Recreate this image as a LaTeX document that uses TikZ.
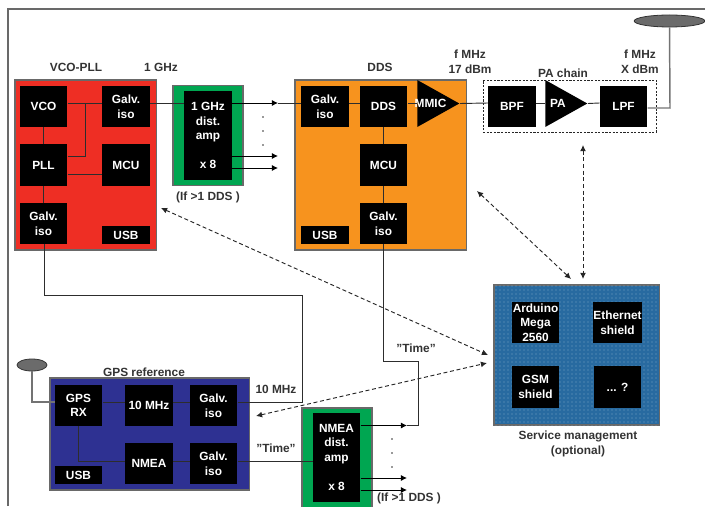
\documentclass[tikz,border=0pt]{standalone}
\usepackage{fontspec}
\setmainfont{Liberation Sans}
\usetikzlibrary{arrows.meta,positioning,shapes.geometric,patterns}
\definecolor{vcored}{RGB}{238,46,36}
\definecolor{ddsorange}{RGB}{247,147,30}
\definecolor{ampgreen}{RGB}{0,166,81}
\definecolor{gpsblue}{RGB}{46,49,146}
\definecolor{svcblue}{RGB}{40,106,160}
\definecolor{edgegrey}{RGB}{105,105,105}
\definecolor{wiregrey}{RGB}{45,45,45}
\tikzset{
  txt/.style={font=\fontsize{8.9}{10.9}\selectfont\bfseries,text=black!80,align=center,inner sep=0pt},
  panel/.style={draw=edgegrey,line width=0.8pt,minimum width=#1,inner sep=0pt},
  blockbox/.style={fill=black,text=white,font=\fontsize{8.9}{10.9}\selectfont\bfseries,align=center,inner sep=0pt,minimum width=35.6pt,minimum height=30.8pt},
  usbbox/.style={blockbox,minimum height=13.5pt},
  ampbox/.style={blockbox,minimum height=66.8pt},
  gainshape/.style={fill=black,isosceles triangle,isosceles triangle stretches,shape border rotate=0,minimum width=35.2pt,minimum height=31.5pt,inner sep=0pt,anchor=apex},
  wire/.style={wiregrey,line width=0.7pt},
  feed/.style={black!55,line width=1.1pt},
  sig/.style={black,line width=0.7pt,-{Latex[length=4.6pt,width=4.6pt]}},
  mgmt/.style={black!85,line width=0.7pt,densely dashed,{Latex[length=4.6pt,width=4.4pt]}-{Latex[length=4.6pt,width=4.4pt]}},
  spot/.style={circle,fill=black!80,inner sep=0.45pt},
  antenna/.style={ellipse,draw=black!80,fill=black!58,line width=0.6pt,inner sep=0pt}
}
\begin{document}
\begin{tikzpicture}[x=0.75pt,y=-0.75pt]
  \useasboundingbox (0,0) rectangle (705,506);
  \clip (0,0) rectangle (705,506);
  % Frame
  \draw[edgegrey,line width=0.9pt] (8,506) -- (8,9) -- (705,9);
  % Panels
  \node[panel=105.8pt,fill=vcored,minimum height=127.5pt] (vcopanel) at (85.5,165) {};
  \node[panel=128.3pt,fill=ddsorange,minimum height=127.5pt] (ddspanel) at (380.5,165) {};
  \node[panel=52.5pt,fill=ampgreen,minimum height=74.3pt] (rfamppanel) at (208,135.5) {};
  \node[panel=149.3pt,fill=gpsblue,minimum height=84pt] (gpspanel) at (149.5,434) {};
  \node[panel=52.5pt,fill=ampgreen,minimum height=74.3pt] (nmeapanel) at (337,457.5) {};
  \node[panel=123.8pt,minimum height=105pt,fill=svcblue,pattern color=white!38!svcblue,postaction={pattern=dots}] (svcpanel) at (576.5,355) {};
  % VCO-PLL
  \node[txt] (vcotitle) at (76,67) {VCO-PLL};
  \node[txt] (ghzlabel) at (161,67) {1 GHz};
  \node[blockbox] (vco) at (43.5,106.5) {VCO};
  \node[blockbox] (galvA) at (126,106.5) {Galv.\\iso};
  \node[blockbox] (pll) at (43.5,165) {PLL};
  \node[blockbox] (mcuA) at (126,165) {MCU};
  \node[blockbox] (galvB) at (43.5,223.5) {Galv.\\iso};
  \node[usbbox] (usbA) at (126,235) {USB};
  % Distribution amp
  \node[ampbox] (rfamp) at (208,135.5) {1 GHz\\dist.\\amp\\[10.9pt]x 8};
  \node[txt] (rfampnote) at (208,197) {(If >1 DDS )};
  \foreach \i/\y in {1/117,2/131,3/145}
    \node[spot] (rfdot\i) at (263,\y) {};
  % DDS
  \node[txt] (ddstitle) at (380,67) {DDS};
  \node[txt] (mmiclabel) at (470,62) {f MHz\\17 dBm};
  \node[blockbox] (galvC) at (325,106.5) {Galv.\\iso};
  \node[blockbox] (dds) at (383.5,106.5) {DDS};
  \node[gainshape] (mmic) at (460,103.5) {};
  \node[text=white,font=\fontsize{8.9}{10.9}\selectfont\bfseries,inner sep=0pt] (mmictext) at (430.5,103.5) {MMIC};
  \node[blockbox] (mcuB) at (383.5,165) {MCU};
  \node[blockbox] (galvD) at (383.5,223.5) {Galv.\\iso};
  \node[usbbox] (usbB) at (325,235) {USB};
  % PA chain
  \node[txt] (patitle) at (563,73) {PA chain};
  \node[txt] (palabel) at (640,62) {f MHz\\X dBm};
  \node[draw=black!85,line width=0.6pt,dash pattern=on 1.6pt off 1.1pt,minimum width=129.8pt,minimum height=39pt,inner sep=0pt] (pabox) at (569.5,106) {};
  \node[blockbox] (bpf) at (512,106.5) {BPF};
  \node[gainshape] (pa) at (588,103.5) {};
  \node[text=white,font=\fontsize{8.9}{10.9}\selectfont\bfseries,inner sep=0pt] (patext) at (558,103.5) {PA};
  \node[blockbox] (lpf) at (623.5,106.5) {LPF};
  \node[antenna,minimum width=53pt,minimum height=9pt] (dishA) at (669.5,21) {};
  % GPS reference
  \node[txt] (gpstitle) at (144,372) {GPS reference};
  \node[antenna,minimum width=22.5pt,minimum height=9pt] (dishB) at (32,365) {};
  \node[blockbox] (gpsrx) at (78.5,405.5) {GPS\\RX};
  \node[blockbox] (tenmhz) at (149,405.5) {10 MHz};
  \node[blockbox] (galvE) at (213.5,405.5) {Galv.\\iso};
  \node[blockbox] (nmea) at (149,463.5) {NMEA};
  \node[blockbox] (galvF) at (213.5,463.5) {Galv.\\iso};
  \node[usbbox] (usbC) at (78.5,475) {USB};
  \node[txt] (reflabel) at (276,389) {10 MHz};
  \node[txt] (timeA) at (276,448) {"Time"};
  \node[txt] (timeB) at (416,348) {"Time"};
  % NMEA amp
  \node[ampbox] (nmeaamp) at (336.5,457.5) {NMEA\\dist.\\amp\\[10.9pt]x 8};
  \node[txt] (nmeanote) at (409,498) {(If >1 DDS )};
  \foreach \i/\y in {1/439,2/453,3/467}
    \node[spot] (nmeadot\i) at (392,\y) {};
  % Service management
  \node[blockbox] (arduino) at (535.5,322.5) {Arduino\\Mega\\2560};
  \node[blockbox] (ethernet) at (617.5,322.5) {Ethernet\\shield};
  \node[blockbox] (gsm) at (535.5,387) {GSM\\shield};
  \node[blockbox] (spare) at (617.5,387) {... ?};
  \node[txt] (svctitle) at (578,444) {Service management\\(optional)};
  % Row heights and free ends
  \coordinate (rfrow) at (0,103);
  \coordinate (plltap) at (85,156);
  \coordinate (pllrow) at (0,174);
  \coordinate (usrow) at (0,402);
  \coordinate (timerow) at (0,461);
  \coordinate (nmearow) at (0,425.5);
  \coordinate (rftipA) at (278,103);
  \coordinate (rftipB) at (278,156);
  \coordinate (rftipC) at (278,168);
  \coordinate (nmeatipA) at (407,425.5);
  \coordinate (nmeatipB) at (407,478);
  \coordinate (nmeatipC) at (407,490);
  \coordinate (lpfout) at (670,108);
  \coordinate (refbendA) at (302,402);
  \coordinate (refbendB) at (302,295);
  \coordinate (refbendC) at (44,295);
  \coordinate (timebendA) at (383.5,361);
  \coordinate (timebendB) at (418,361);
  \coordinate (timebendC) at (418,425.5);
  % VCO-PLL wiring
  \draw[wire] (vco.east |- rfrow) -- (galvA.west |- rfrow);
  \draw[wire] (vco) -- (pll);
  \draw[wire] (pll) -- (galvB);
  \draw[wire] (pll.east |- plltap) -- (plltap) -- (plltap |- rfrow);
  \draw[wire] (pll.east |- pllrow) -- (mcuA.west |- pllrow);
  % RF path
  \draw[wire] (galvA.east |- rfrow) -- (rfamp.west |- rfrow);
  \draw[sig] (rfamp.east |- rfrow) -- (rftipA);
  \draw[wire] (rftipA) -- (galvC.west |- rfrow);
  \draw[sig] (rfamp.east |- rftipB) -- (rftipB);
  \draw[sig] (rfamp.east |- rftipC) -- (rftipC);
  \draw[wire] (galvC.east |- rfrow) -- (dds.west |- rfrow);
  \draw[wire] (dds.east |- rfrow) -- (mmic.lower side |- rfrow);
  \draw[wire] (dds) -- (mcuB);
  \draw[wire] (mcuB) -- (galvD);
  \draw[wire] (mmic.apex) -- (bpf.west |- rfrow);
  \draw[wire] (bpf.east |- rfrow) -- (pa.lower side |- rfrow);
  \draw[wire] (pa.apex) -- (lpf.west |- rfrow);
  \draw[feed] (lpf.east |- lpfout) -- (lpfout) -- (dishA.south);
  % GPS wiring
  \draw[feed] (dishB.south) |- (gpsrx.west |- usrow);
  \draw[wire] (gpsrx.east |- usrow) -- (tenmhz.west |- usrow);
  \draw[wire] (tenmhz.east |- usrow) -- (galvE.west |- usrow);
  \draw[wire] (gpsrx) |- (nmea.west |- timerow);
  \draw[wire] (nmea.east |- timerow) -- (galvF.west |- timerow);
  \draw[wire] (galvF.east |- timerow) -- (nmeaamp.west |- timerow);
  % 10 MHz back to PLL
  \draw[wire] (galvE.east |- usrow) -- (refbendA) -- (refbendB) -- (refbendC) -- (refbendC |- galvB.south);
  % Time to DDS
  \draw[sig] (nmeaamp.east |- nmearow) -- (nmeatipA);
  \draw[wire] (nmeatipA) -- (timebendC) -- (timebendB) -- (timebendA) -- (galvD);
  \draw[sig] (nmeaamp.east |- nmeatipB) -- (nmeatipB);
  \draw[sig] (nmeaamp.east |- nmeatipC) -- (nmeatipC);
  % Service links
  \coordinate (mgmtA) at (161,208);
  \coordinate (mgmtB) at (488,355);
  \coordinate (mgmtC) at (477,191);
  \coordinate (mgmtD) at (571,279);
  \coordinate (mgmtE) at (583,145);
  \coordinate (mgmtF) at (583,279);
  \coordinate (mgmtG) at (256,416);
  \coordinate (mgmtH) at (487,363);
  \draw[mgmt] (mgmtA) -- (mgmtB);
  \draw[mgmt] (mgmtC) -- (mgmtD);
  \draw[mgmt] (mgmtE) -- (mgmtF);
  \draw[mgmt] (mgmtG) -- (mgmtH);
\end{tikzpicture}
\end{document}
